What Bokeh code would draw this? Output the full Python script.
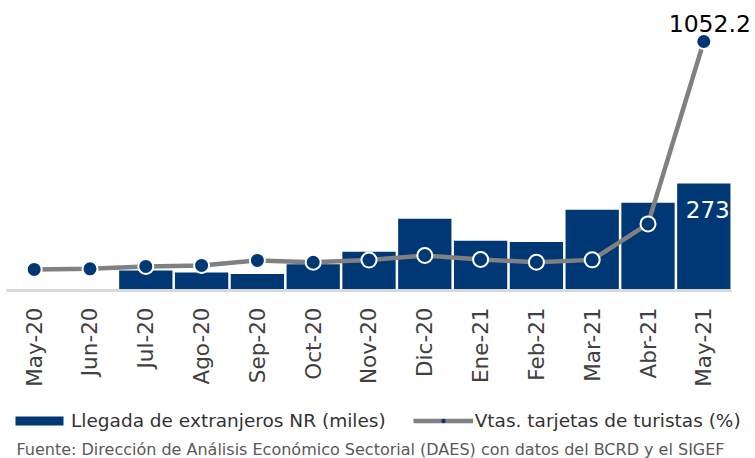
import math
from bokeh.plotting import figure
from bokeh.models import (ColumnDataSource, Range1d, Legend, LegendItem, Label)
from bokeh.core.properties import value
from bokeh.embed import file_html
from bokeh.resources import INLINE

# ---- data ----
months = ["May-20", "Jun-20", "Jul-20", "Ago-20", "Sep-20", "Oct-20", "Nov-20",
          "Dic-20", "Ene-21", "Feb-21", "Mar-21", "Abr-21", "May-21"]
llegadas = [0, 0, 51, 46, 42, 67, 99, 183, 127, 124, 206, 224, 273]
vtas_tarjetas = [-94, -91, -79, -74, -49, -58, -47, -24, -44, -58, -46, 135, 1052.2]
bar_label_text = "273"
line_label_text = "1052.2"
legend_labels = ["Llegada de extranjeros NR (miles)", "Vtas. tarjetas de turistas (%)"]
footer_text = "Fuente: Dirección de Análisis Económico Sectorial (DAES) con datos del BCRD y el SIGEF"

NAVY = "#003876"
GRAY = "#808080"
FONT = "DejaVu Sans"

n = len(months)
idx = list(range(n))
src = ColumnDataSource(dict(x=idx, month=months, llegadas=llegadas, vtas=vtas_tarjetas,
                            base=[0] * n))
last = n - 1
bar_lab = ColumnDataSource(dict(x=[idx[last]], y=[llegadas[last]], t=[bar_label_text]))
line_lab = ColumnDataSource(dict(x=[idx[last]], y=[vtas_tarjetas[last]], t=[line_label_text]))

p = figure(width=755, height=458, output_backend="svg", toolbar_location=None,
           x_range=Range1d(-0.6039, 12.9265), y_range=Range1d(-428.6, 739.9),
           x_axis_location=None, y_axis_location=None,
           min_border=0, min_border_left=0, min_border_right=0,
           min_border_top=0, min_border_bottom=0)
p.outline_line_color = None
p.grid.visible = False
p.background_fill_color = "white"
p.border_fill_color = "white"
p.extra_y_ranges = {"vtas": Range1d(-1044.9, 1258.4)}

bars = p.vbar(x="x", top="llegadas", width=0.955, bottom=0, source=src,
              fill_color=NAVY, line_color=None)

# category axis baseline
p.segment(x0=[idx[0] - 0.5], x1=[idx[-1] + 0.5], y0=[0], y1=[0],
          line_color="#d9d9d9", line_width=3)

# category tick labels (vertical, reading upward)
p.text(x="x", y="base", text="month", source=src, angle=math.pi / 2,
       text_align="right", text_baseline="middle", y_offset=17,
       text_font=value(FONT), text_font_size="21.5px", text_color="#404040")

line_r = p.line(x="x", y="vtas", source=src, y_range_name="vtas",
                line_color=GRAY, line_width=4.5)
dots_leg = p.scatter(x="x", y="vtas", source=src, y_range_name="vtas",
                     size=13, fill_color=NAVY, line_color=None)
dots = p.scatter(x="x", y="vtas", source=src, y_range_name="vtas",
                 size=15, fill_color=NAVY, line_color="white", line_width=2)

p.text(x="x", y="y", text="t", source=bar_lab, text_color="white",
       text_font=value(FONT), text_font_size="23px", text_align="center",
       text_baseline="alphabetic", x_offset=4, y_offset=26)
p.text(x="x", y="y", text="t", source=line_lab, y_range_name="vtas",
       text_color="black", text_font=value(FONT), text_font_size="23.5px",
       text_align="center", text_baseline="alphabetic", x_offset=6, y_offset=-18)

legend = Legend(items=[
    LegendItem(label=legend_labels[0], renderers=[bars]),
    LegendItem(label=legend_labels[1], renderers=[line_r, dots_leg]),
], orientation="horizontal", location=(9, 27), margin=0, padding=0,
    spacing=27, glyph_width=60, glyph_height=11, label_standoff=2,
    label_text_font=FONT, label_text_font_size="18.5px", label_text_color="#333333",
    border_line_color=None, background_fill_alpha=0)
p.add_layout(legend, "center")

p.add_layout(Label(x=16, y=9, x_units="screen", y_units="screen", text=footer_text,
                   text_font=FONT, text_font_size="16px", text_color="#595959",
                   text_baseline="alphabetic", text_align="left"))

open("out.html", "w").write(file_html(p, INLINE))
